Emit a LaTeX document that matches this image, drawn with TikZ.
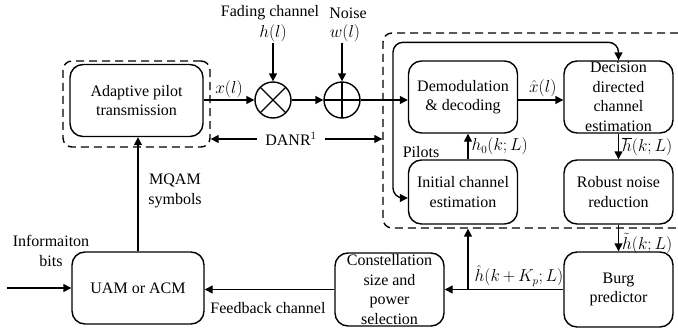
\documentclass[tikz,border=0pt]{standalone}
\usepackage{fontspec}
\setmainfont{Liberation Serif}
\usetikzlibrary{arrows.meta}

\tikzset{
  blk/.style={draw, line width=1.4pt, rounded corners=13pt, align=center,
    inner xsep=2pt, inner ysep=0pt, minimum width=109pt, minimum height=72pt},
  dashbox/.style={draw, line width=1.4pt, dash pattern=on 8pt off 5pt,
    rounded corners=9pt, minimum width=147pt, minimum height=86pt},
  mixer/.style={draw, circle, line width=1.4pt, minimum size=36pt, inner sep=0pt},
  arr/.style={line width=1.4pt, -{Triangle[length=8pt,width=8pt]}},
  lbl/.style={align=center, inner sep=1pt}
}

\begin{document}
\begin{tikzpicture}[x=1pt, y=-1pt, font=\fontsize{16}{19.5}\selectfont]
  \useasboundingbox (0,0) rectangle (678,335);
  % dashed groups
  \node [dashbox] (txbox) at (136.5,104) {};
  \node [dashbox, minimum width=317pt, minimum height=195pt] (rxbox) at (541.5,130.5) {};
  % blocks
  \node [blk, minimum width=133pt] (apt) at (136.5,100.5) {Adaptive pilot\\transmission};
  \node [blk, minimum width=132pt] (uam) at (138,288) {UAM or ACM};
  \node [blk] (demod) at (463,97) {Demodulation\\\& decoding};
  \node [blk] (dec) at (618.5,97) {Decision\\directed\\channel\\estimation};
  \node [blk, minimum height=64pt] (ice) at (463,192) {Initial channel\\estimation};
  \node [blk, minimum height=64pt] (rnr) at (618.5,192) {Robust noise\\reduction};
  \node [blk, minimum height=75pt] (burg) at (618.5,289.5) {Burg\\predictor};
  \node [blk, minimum height=73pt] (csp) at (389.5,289.5) {Constellation\\size and\\power\\selection};
  % channel
  \node [mixer, path picture={
      \draw [line width=1.4pt] (path picture bounding box.north west) -- (path picture bounding box.south east);
      \draw [line width=1.4pt] (path picture bounding box.north east) -- (path picture bounding box.south west);}]
    (mult) at (273,100) {};
  \node [mixer, path picture={
      \draw [line width=1.4pt] (path picture bounding box.north) -- (path picture bounding box.south);
      \draw [line width=1.4pt] (path picture bounding box.west) -- (path picture bounding box.east);}]
    (add) at (342,100) {};
  \node [lbl] (fade) at (270,13) {Fading channel};
  \node [lbl] (hl) at (273,33) {$h(l)$};
  \node [lbl] (noise) at (348,13) {Noise};
  \node [lbl] (wl) at (345,33) {$w(l)$};
  \draw [arr] (hl.south) -- (mult.north);
  \draw [arr] (wl.south -| add) -- (add.north);
  \draw [arr] (apt.east |- mult) -- node [lbl, above] {$x(l)$} (mult.west);
  \draw [arr] (mult.east) -- (add.west);
  \coordinate (split) at (393,100);
  \draw [arr] (add.east) -- (demod.west |- add);
  \draw [arr, rounded corners=10pt] (split) |- ([yshift=18pt]dec.north) -- (dec.north);
  \draw [arr, rounded corners=10pt] (split) |- ([yshift=-6pt]ice.west);
  \node [lbl] (pilots) at (421,152) {Pilots};
  % DANR
  \node [lbl, inner xsep=8pt] (danr) at (291,139) {DANR$^1$};
  \draw [arr] (danr.west) -- (txbox.east |- danr);
  \draw [arr] (danr.east) -- (rxbox.west |- danr);
  % receiver
  \draw [arr] ([xshift=5pt]ice.north) -- node [lbl, right=2pt] {$h_0(k;L)$} ([xshift=5pt]demod.south);
  \draw [arr] (demod.east |- add) -- node [lbl, above=1pt, xshift=2pt] {$\hat{x}(l)$} (dec.west |- add);
  \draw [arr] (dec.south) -- node [lbl, right=2pt] {$\overline{h}(k;L)$} (rnr.north);
  \draw [arr] (rnr.south) -- node [lbl, right=2pt, pos=0.7] {$\tilde{h}(k;L)$} (burg.north);
  % feedback
  \coordinate (br) at (468,289.5);
  \draw [arr] (burg.west) -- (csp.east);
  \node [lbl] (hpred) at (519,276) {$\hat{h}(k\,{+}\,K_p;L)$};
  \draw [arr] (br) -- (br |- rxbox.south);
  \draw [arr] (csp.west) -- (uam.east |- csp.west);
  \node [lbl] (fb) at (268,308) {Feedback channel};
  \draw [arr] (uam.north) -- (uam.north |- apt.south);
  \node [lbl] (mqam) at (175,191) {MQAM\\symbols};
  \coordinate (bitsin) at (7,288);
  \draw [arr] (bitsin) -- (uam.west);
  \node [lbl] (bits) at (51,251) {Informaiton\\bits};
\end{tikzpicture}
\end{document}
